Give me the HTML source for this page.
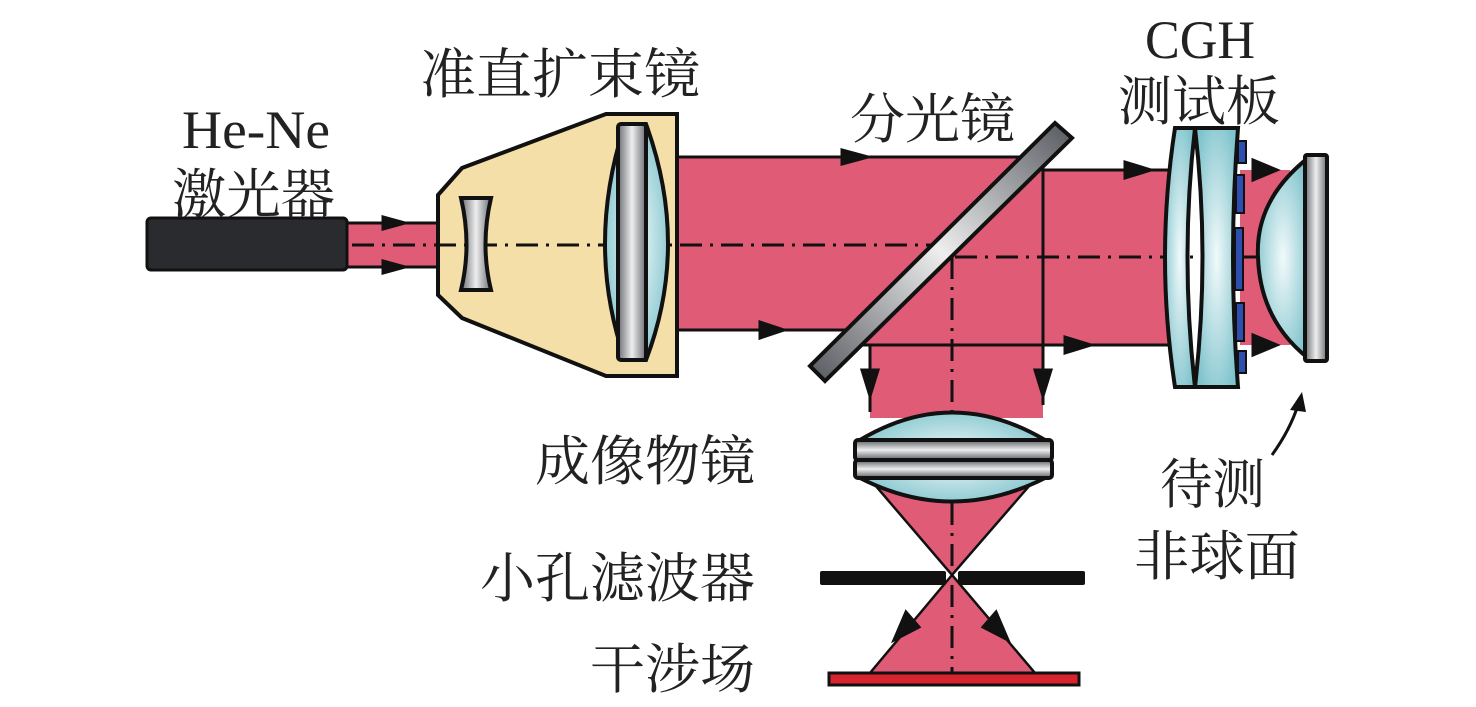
<!DOCTYPE html>
<html><head><meta charset="utf-8"><style>
html,body{margin:0;padding:0;background:#fff;}
svg{display:block}
text{font-family:"Liberation Serif","Noto Serif CJK SC",serif;fill:#222;font-size:54px}
</style></head><body>
<svg width="1476" height="707" viewBox="0 0 1476 707" xmlns="http://www.w3.org/2000/svg">
<defs>
<linearGradient id="gv" x1="0" y1="0" x2="0" y2="1"><stop offset="0" stop-color="#5a5d63"/><stop offset="0.5" stop-color="#eeeeee"/><stop offset="1" stop-color="#5a5d63"/></linearGradient>
<linearGradient id="gh" x1="0" y1="0" x2="1" y2="0"><stop offset="0" stop-color="#6a6d73"/><stop offset="0.5" stop-color="#eeeeee"/><stop offset="1" stop-color="#6a6d73"/></linearGradient>
<linearGradient id="gd" x1="0" y1="1" x2="1" y2="0"><stop offset="0" stop-color="#55585e"/><stop offset="0.5" stop-color="#eeeeee"/><stop offset="1" stop-color="#55585e"/></linearGradient>
<radialGradient id="gc" cx="0.5" cy="0.5" r="0.6"><stop offset="0" stop-color="#f2fafb"/><stop offset="1" stop-color="#7fc3cc"/></radialGradient>
</defs>
<g stroke="#111" stroke-width="3" fill="#e05c76">
<rect x="345" y="223" width="95" height="44"/>
<polygon points="677,157 1040,157 865,330 677,330" stroke="none"/>
<polygon points="1025,170 1170,170 1170,345 845,345" stroke="none"/>
<rect x="870" y="343" width="173" height="75" stroke="none"/>
<line x1="677" y1="157" x2="1040" y2="157"/>
<line x1="677" y1="330" x2="862" y2="330"/>
<line x1="1043" y1="170" x2="1170" y2="170"/>
<line x1="860" y1="345" x2="1170" y2="345"/>
<line x1="1043" y1="168" x2="1043" y2="405"/>
<line x1="870" y1="345" x2="870" y2="412"/>
<polygon points="1240,170 1290,170 1290,345 1240,345" stroke="none"/>
<polygon points="875,485 1030,485 952,575" stroke-width="2.5"/>
<polygon points="952,575 870,673 1035,673" stroke-width="2.5"/>
</g>
<g stroke="#111" stroke-width="3" fill="#111">
<path d="M383,217 l22,6 l-22,6z"/><path d="M383,261 l22,6 l-22,6z"/>
<path d="M842,150 l26,7 l-26,7z"/><path d="M760,322 l24,8 l-24,8z"/>
<path d="M1125,162 l26,8 l-26,8z"/><path d="M1065,337 l26,8 l-26,8z"/>
<path d="M1253,160 l24,10 l-24,10z"/><path d="M1253,335 l24,10 l-24,10z"/>
<path d="M862,370 l8,26 l8,-26z"/><path d="M1035,370 l8,26 l8,-26z"/>
<path d="M906,612 l-12,28 l25,-13z"/><path d="M996,612 l12,28 l-25,-13z"/>
</g>
<polygon points="438,195 462,168 606,114 677,114 677,376 606,376 462,318 438,295" fill="#f3dfa7" stroke="#111" stroke-width="4"/>
<g stroke="#111" stroke-width="3" stroke-dasharray="22,8,3,8" fill="none">
<line x1="352" y1="245" x2="955" y2="245"/>
<line x1="955" y1="257" x2="1260" y2="257"/>
<line x1="952" y1="257" x2="952" y2="680"/>
</g>
<rect x="147" y="218" width="200" height="52" rx="4" fill="#2a2b2e" stroke="#111" stroke-width="3"/>
<path d="M461,198 L491,198 Q480,245 491,290 L461,290 Q472,245 461,198z" fill="url(#gh)" stroke="#111" stroke-width="4"/>
<path d="M625,124 Q585,245 625,360 L646,360 Q690,245 646,124z" fill="url(#gc)" stroke="#111" stroke-width="4"/>
<rect x="618" y="124" width="28" height="236" rx="3" fill="url(#gh)" stroke="#111" stroke-width="4"/>
<polygon points="1055,123 1072,138 825,381 810,366" fill="url(#gd)" stroke="#111" stroke-width="4"/>
<path d="M860,440 Q952,385 1045,440 L1045,478 Q952,525 860,478z" fill="url(#gc)" stroke="#111" stroke-width="4"/>
<rect x="855" y="440" width="197" height="20" rx="3" fill="url(#gv)" stroke="#111" stroke-width="4"/>
<rect x="855" y="460" width="197" height="18" rx="3" fill="url(#gv)" stroke="#111" stroke-width="4"/>
<rect x="820" y="571" width="126" height="14" rx="2" fill="#111"/>
<rect x="958" y="571" width="127" height="14" rx="2" fill="#111"/>
<rect x="829" y="673" width="250" height="12" fill="#d8242f" stroke="#111" stroke-width="3"/>
<path d="M1175,128 L1195,128 Q1180,257 1195,387 L1175,387 Q1155,257 1175,128z" fill="url(#gc)" stroke="#111" stroke-width="4"/>
<path d="M1195,128 L1238,128 Q1228,257 1238,387 L1195,387 Q1210,257 1195,128z" fill="url(#gc)" stroke="#111" stroke-width="4"/>
<g fill="#2f4fb0" stroke="#111" stroke-width="2">
<rect x="1238" y="141" width="8" height="22"/><rect x="1236" y="175" width="8" height="38"/>
<rect x="1235" y="228" width="8" height="62"/><rect x="1236" y="303" width="8" height="38"/><rect x="1238" y="351" width="8" height="22"/>
</g>
<path d="M1308,158 Q1255,200 1258,257 Q1260,320 1308,358z" fill="url(#gc)" stroke="#111" stroke-width="4"/>
<rect x="1305" y="155" width="22" height="206" rx="2" fill="url(#gh)" stroke="#111" stroke-width="4"/>
<path d="M1272,455 Q1290,430 1298,405" fill="none" stroke="#111" stroke-width="3"/>
<path d="M1290,410 l12,-18 l4,20z" fill="#111"/>
<text x="182" y="148" textLength="148" lengthAdjust="spacingAndGlyphs">He-Ne</text>
<text x="172" y="213" textLength="163" lengthAdjust="spacingAndGlyphs">激光器</text>
<text x="420" y="93" textLength="280" lengthAdjust="spacingAndGlyphs">准直扩束镜</text>
<text x="850" y="138" textLength="165" lengthAdjust="spacingAndGlyphs">分光镜</text>
<text x="1145" y="58" textLength="110" lengthAdjust="spacingAndGlyphs">CGH</text>
<text x="1118" y="120" textLength="162" lengthAdjust="spacingAndGlyphs">测试板</text>
<text x="535" y="480" textLength="220" lengthAdjust="spacingAndGlyphs">成像物镜</text>
<text x="480" y="597" textLength="275" lengthAdjust="spacingAndGlyphs">小孔滤波器</text>
<text x="590" y="688" textLength="165" lengthAdjust="spacingAndGlyphs">干涉场</text>
<text x="1160" y="503" textLength="105" lengthAdjust="spacingAndGlyphs">待测</text>
<text x="1134" y="575" textLength="166" lengthAdjust="spacingAndGlyphs">非球面</text>
</svg>
</body></html>
